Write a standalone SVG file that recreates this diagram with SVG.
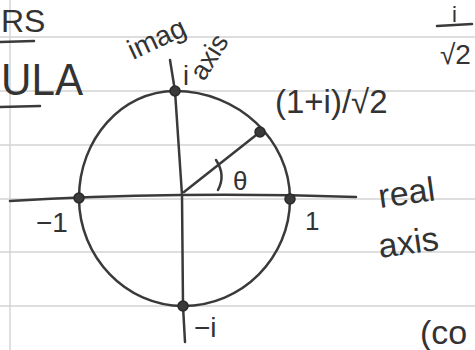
<svg xmlns="http://www.w3.org/2000/svg" width="475" height="350" viewBox="0 0 475 350">
<style>
.rule{stroke:#d4d4d4;stroke-width:1.5;fill:none}
.ink{stroke:#3a3a3a;stroke-width:2.5;fill:none;stroke-linecap:round}
.dot{fill:#3a3a3a;stroke:#2a2a2a;stroke-width:1.5}
.t{font-family:"Liberation Sans",Arial,sans-serif;fill:#333}
</style>
<rect width="475" height="350" fill="#fff"/>
<g id="paper">
<path class="rule" d="M0,37H475M0,91H475M0,145H475M0,199H475M0,252H475M0,306H475"/>
<path class="rule" d="M10,0V350"/>
</g>
<g id="margin-notes">
<text class="t" x="1" y="32" font-size="32">RS</text>
<path class="ink" d="M0,42L34,41M0,107L40,106"/>
<text class="t" x="1" y="95" font-size="44" textLength="82" lengthAdjust="spacingAndGlyphs">ULA</text>
</g>
<g id="connectors">
<path class="ink" d="M175,91C238,91 290,140 290,199C290,258 242,306 183,306C126,306 79,257 79,198C79,139 122,91 175,91Z"/>
<path class="ink" d="M10,201Q90,196 180,195T356,197"/>
<path class="ink" d="M170,60L175,91L182,195L183,306L185,342"/>
<path class="ink" d="M184,192L260,132"/>
<path class="ink" d="M216,160Q226,175 218,190"/>
</g>
<g id="node-i"><circle class="dot" cx="175" cy="91" r="5"/></g>
<g id="node-neg1"><circle class="dot" cx="79" cy="198" r="5"/></g>
<g id="node-1"><circle class="dot" cx="290" cy="199" r="5"/></g>
<g id="node-negi"><circle class="dot" cx="183" cy="306" r="5"/></g>
<g id="node-diag"><circle class="dot" cx="260" cy="132" r="5"/></g>
<g id="labels">
<text class="t" x="133" y="60" font-size="28" transform="rotate(-25 133 60)">imag</text>
<text class="t" x="204" y="82" font-size="27" transform="rotate(-58 204 82)">axis</text>
<text class="t" x="183" y="85" font-size="27">i</text>
<text class="t" x="275" y="113" font-size="33">(1+i)/√2</text>
<text class="t" x="233" y="190" font-size="26">θ</text>
<text class="t" x="36" y="232" font-size="28">−1</text>
<text class="t" x="305" y="230" font-size="26">1</text>
<text class="t" x="380" y="208" font-size="34" transform="rotate(-8 380 208)">real</text>
<text class="t" x="380" y="258" font-size="34" transform="rotate(-8 380 258)">axis</text>
<text class="t" x="194" y="337" font-size="28">−i</text>
<text class="t" x="452" y="22" font-size="22">i</text>
<path class="ink" d="M437,26L472,24"/>
<text class="t" x="440" y="64" font-size="28">√2</text>
<text class="t" x="420" y="344" font-size="34">(co</text>
</g>
</svg>
